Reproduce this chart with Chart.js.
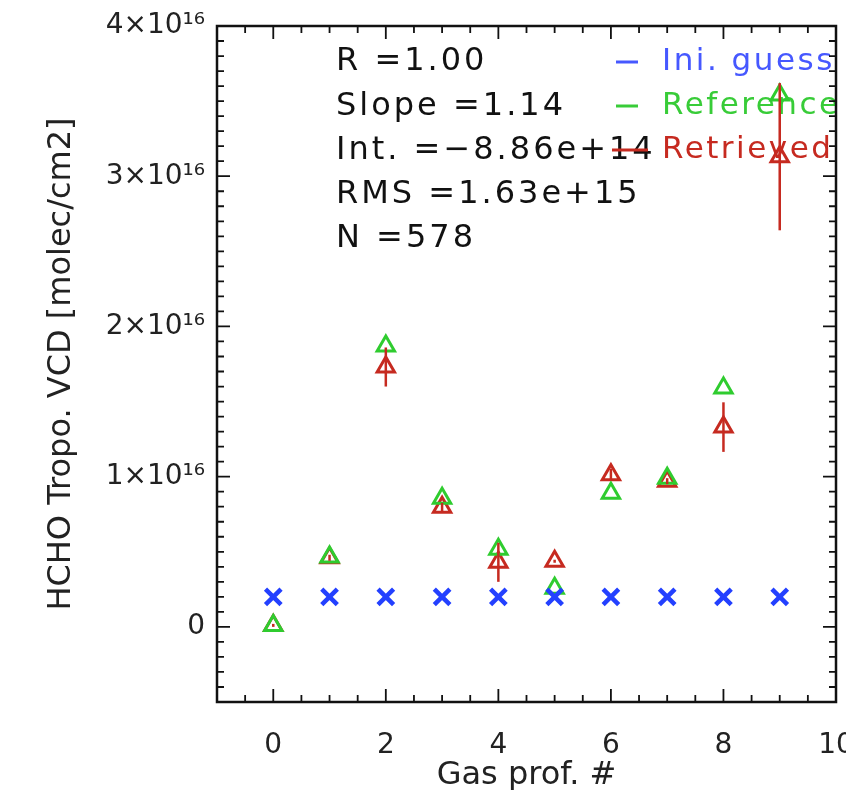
<!DOCTYPE html>
<html>
<head>
<meta charset="utf-8">
<script src="https://cdn.jsdelivr.net/npm/chart.js@4"></script>
<style>
  html, body { margin: 0; padding: 0; background: #fff; overflow: hidden; }
  #wrap { width: 846px; height: 790px; }
</style>
</head>
<body>
<div id="wrap"><canvas id="vcd"></canvas></div>
<script>
// profile index and the three series (molec/cm2)
const profIdx   = [0, 1, 2, 3, 4, 5, 6, 7, 8, 9];
const iniGuess  = [2.0e15, 2.0e15, 2.0e15, 2.0e15, 2.0e15, 2.0e15, 2.0e15, 2.0e15, 2.0e15, 2.0e15];
const reference = [1.0e14, 4.65e15, 1.87e16, 8.56e15, 5.17e15, 2.57e15, 8.89e15, 9.9e15, 1.59e16, 3.54e16];
const retrieved = [1.0e14, 4.6e15, 1.73e16, 7.96e15, 4.3e15, 4.37e15, 1.013e16, 9.7e15, 1.33e16, 3.13e16];
const retrErr   = [1.0e14, 2.0e14, 1.3e15, 3.0e14, 1.3e15, 1.0e14, 4.0e14, 2.0e14, 1.65e15, 4.9e15];

const xTicks = [0, 2, 4, 6, 8, 10];
const yTicks = [0, 1e16, 2e16, 3e16, 4e16];

const statsLines = ['R =1.00', 'Slope =1.14', 'Int. =\u22128.86e+14', 'RMS =1.63e+15', 'N =578'];
const legendNames = ['Ini. guess', 'Reference', 'Retrieved'];

const BLUE = '#2340ff', GREEN = '#2fcc2f', RED = '#c62a20';
const FONT = "'DejaVu Sans', sans-serif";

function pts(ys) { return profIdx.map((x, i) => ({ x: x, y: ys[i] })); }

function yLabel(v) {
  if (v === 0) return '0';
  return (v / 1e16) + '\u00d710\u00b9\u2076';
}

// text block and legend (drawn under the markers)
const textPlugin = {
  id: 'textBlock',
  beforeDatasetsDraw(chart) {
    const ctx = chart.ctx;
    ctx.save();
    ctx.font = '32px ' + FONT;
    ctx.letterSpacing = '3px';
    ctx.textBaseline = 'middle';
    ctx.textAlign = 'left';
    ctx.fillStyle = '#111';
    statsLines.forEach((s, i) => ctx.fillText(s, 336, 62 + 44.2 * i));
    const cols = ['#4658ff', '#38cc38', RED];
    ctx.font = '31px ' + FONT;
    ctx.letterSpacing = '2.5px';
    legendNames.forEach((s, i) => {
      const y = 62 + 44 * i;
      ctx.strokeStyle = cols[i];
      ctx.lineWidth = 3;
      ctx.beginPath();
      ctx.moveTo(i === 2 ? 612 : 616, y);
      ctx.lineTo(i === 2 ? 648 : 638, y);
      ctx.stroke();
      ctx.fillStyle = cols[i];
      ctx.fillText(s, 662, y);
    });
    ctx.restore();
  }
};

// vertical error bars on the retrieved values
const errPlugin = {
  id: 'errBars',
  afterDatasetsDraw(chart) {
    const ctx = chart.ctx, xs = chart.scales.x, ys = chart.scales.y;
    ctx.save();
    ctx.strokeStyle = RED;
    ctx.lineWidth = 2.5;
    profIdx.forEach((x, i) => {
      const px = xs.getPixelForValue(x);
      ctx.beginPath();
      ctx.moveTo(px, ys.getPixelForValue(retrieved[i] + retrErr[i]));
      ctx.lineTo(px, ys.getPixelForValue(retrieved[i] - retrErr[i]));
      ctx.stroke();
    });
    ctx.restore();
  }
};

// box with inward major/minor ticks on all four sides
const framePlugin = {
  id: 'frame',
  afterDraw(chart) {
    const ctx = chart.ctx, a = chart.chartArea, xs = chart.scales.x, ys = chart.scales.y;
    ctx.save();
    ctx.strokeStyle = '#111';
    ctx.lineWidth = 2.5;
    ctx.strokeRect(a.left, a.top, a.right - a.left, a.bottom - a.top);
    ctx.lineWidth = 1.8;
    ctx.beginPath();
    for (let k = -10; k <= 100; k += 5) {
      const v = k / 10;
      if (v < xs.min || v > xs.max) continue;
      const px = xs.getPixelForValue(v);
      const len = (k % 20 === 0) ? 13 : 7;
      ctx.moveTo(px, a.bottom); ctx.lineTo(px, a.bottom - len);
      ctx.moveTo(px, a.top); ctx.lineTo(px, a.top + len);
    }
    for (let k = -5; k <= 40; k++) {
      const py = ys.getPixelForValue(k * 1e15);
      const len = (k % 10 === 0) ? 13 : 7;
      ctx.moveTo(a.left, py); ctx.lineTo(a.left + len, py);
      ctx.moveTo(a.right, py); ctx.lineTo(a.right - len, py);
    }
    ctx.stroke();
    ctx.restore();
  }
};

new Chart(document.getElementById('vcd'), {
  type: 'scatter',
  data: {
    datasets: [
      {
        label: legendNames[0],
        data: pts(iniGuess),
        pointStyle: 'crossRot',
        pointRadius: 11,
        borderWidth: 4.5,
        borderColor: BLUE,
        backgroundColor: BLUE
      },
      {
        label: legendNames[1],
        data: pts(reference),
        pointStyle: 'triangle',
        pointRadius: 10,
        borderWidth: 3,
        borderColor: GREEN,
        backgroundColor: 'rgba(0,0,0,0)'
      },
      {
        label: legendNames[2],
        data: pts(retrieved),
        pointStyle: 'triangle',
        pointRadius: 10,
        borderWidth: 3,
        borderColor: RED,
        backgroundColor: 'rgba(0,0,0,0)'
      }
    ]
  },
  options: {
    responsive: true,
    maintainAspectRatio: false,
    animation: false,
    layout: { autoPadding: false, padding: { top: 26, right: 10, left: 0, bottom: 0 } },
    plugins: {
      legend: { display: false },
      tooltip: { enabled: false }
    },
    scales: {
      x: {
        type: 'linear',
        min: -1,
        max: 10,
        afterBuildTicks: s => { s.ticks = xTicks.map(v => ({ value: v })); },
        afterFit: s => { s.height = 88; s.paddingLeft = 0; s.paddingRight = 0; },
        grid: { display: false, drawTicks: false },
        border: { display: false },
        ticks: { padding: 27, color: '#222', font: { family: FONT, size: 28 } },
        title: {
          display: true,
          text: 'Gas prof. #',
          color: '#222',
          font: { family: FONT, size: 32, lineHeight: 1 },
          padding: { top: 0, bottom: -2 }
        }
      },
      y: {
        type: 'linear',
        min: -0.5e16,
        max: 4e16,
        afterBuildTicks: s => { s.ticks = yTicks.map(v => ({ value: v })); },
        afterFit: s => { s.width = 217; s.paddingTop = 0; s.paddingBottom = 0; },
        grid: { display: false, drawTicks: false },
        border: { display: false },
        ticks: { padding: 12, color: '#222', font: { family: FONT, size: 28 }, callback: v => yLabel(v) },
        title: {
          display: true,
          text: 'HCHO Tropo. VCD [molec/cm2]',
          color: '#222',
          font: { family: FONT, size: 32, lineHeight: 1 },
          padding: { top: 46, bottom: 0 }
        }
      }
    }
  },
  plugins: [textPlugin, errPlugin, framePlugin]
});
</script>
</body>
</html>
